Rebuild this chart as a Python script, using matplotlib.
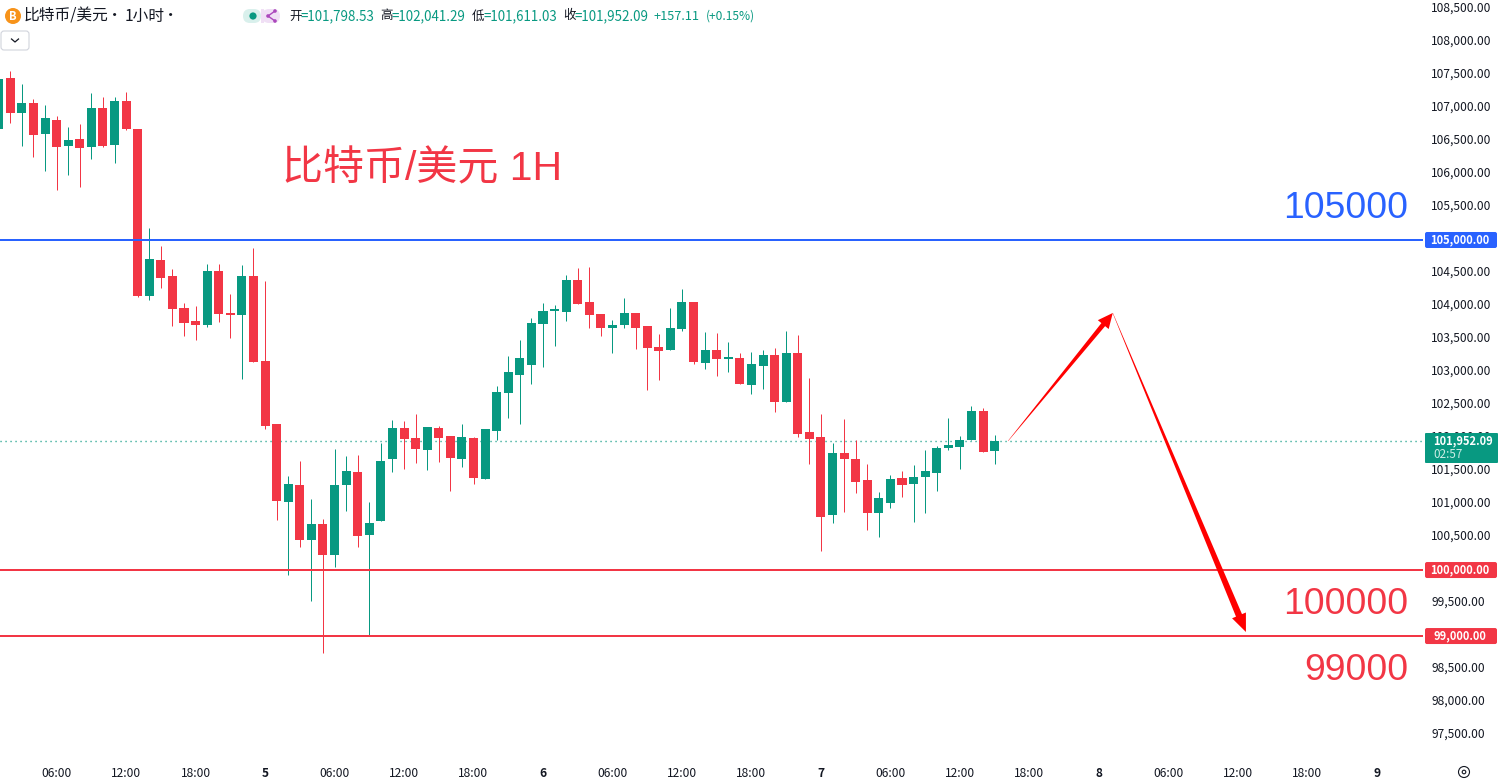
import matplotlib
matplotlib.use("Agg")
import matplotlib.pyplot as plt
from matplotlib.patches import Circle, FancyBboxPatch, Polygon, Rectangle
from matplotlib.transforms import ScaledTranslation
import numpy as np

plt.rcParams['font.family'] = ['Noto Sans CJK SC', 'DejaVu Sans']

# hourly candles
opens = [106682, 107454, 106924, 107076, 106606, 106818, 106424, 106530, 106409, 107000,
         106439, 107106, 106682, 104151, 104697, 104454, 103970, 103773, 103712, 104530,
         103894, 103864, 104454, 103167, 102212, 101031, 101288, 100455, 100697, 100228,
         101288, 101485, 100530, 100743, 101682, 102152, 102000, 101818, 102152, 102030,
         101682, 102000, 101379, 102106, 102682, 102955, 103106, 103727, 103924, 103909,
         104394, 104061, 103879, 103667, 103712, 103894, 103697, 103379, 103333, 103652,
         104061, 103136, 103333, 103197, 103212, 102803, 103091, 103258, 102546, 103288,
         102091, 102015, 100833, 101773, 101682, 101364, 100864, 101015, 101394, 101303,
         101409, 101470, 101848, 101864, 101970, 102409, 101798.53]
highs = [107560, 107560, 107363, 107136, 107045, 106879, 106712, 106757, 107227, 107166,
         107166, 107242, 106682, 105181, 104909, 104560, 104045, 104000, 104636, 104636,
         104182, 104621, 104879, 104379, 102212, 101424, 101652, 101076, 100773, 101834,
         101728, 101743, 101031, 101924, 102273, 102258, 102364, 102167, 102182, 102030,
         102212, 102015, 102137, 102788, 103243, 103485, 103818, 104045, 104015, 104470,
         104576, 104591, 103879, 103788, 104121, 103894, 103697, 103576, 103970, 104258,
         104061, 103606, 103591, 103455, 103288, 103303, 103333, 103364, 103621, 103561,
         102909, 102364, 101924, 102288, 101970, 101606, 101182, 101439, 101500, 101591,
         101818, 101879, 102303, 102030, 102485, 102455, 102041.29]
lows = [106682, 106772, 106424, 106257, 106045, 105757, 105985, 105803, 106227, 106409,
        106167, 106666, 104136, 104091, 104273, 103697, 103545, 103485, 103682, 103757,
        103515, 102894, 103151, 102137, 100758, 99925, 100349, 99531, 98743, 100046,
        100894, 100349, 99000, 100743, 101485, 101530, 101621, 101515, 101636, 101197,
        101561, 101303, 101379, 101970, 102303, 102212, 102818, 103076, 103394, 103773,
        104030, 103667, 103545, 103288, 103667, 103349, 102727, 102879, 103333, 103621,
        103121, 103045, 102940, 103000, 102818, 102667, 102742, 102394, 102546, 102015,
        101606, 100288, 100712, 100879, 101167, 100606, 100500, 100939, 101106, 100727,
        100864, 101197, 101818, 101530, 101970, 101788, 101611.03]
closes = [107439, 106924, 107076, 106591, 106848, 106409, 106515, 106394, 107000, 106424,
          107106, 106682, 104151, 104712, 104424, 103955, 103742, 103712, 104530, 103879,
          103864, 104454, 103151, 102182, 101046, 101303, 100455, 100697, 100228, 101288,
          101500, 100515, 100712, 101652, 102152, 101985, 101834, 102167, 102000, 101697,
          102015, 101394, 102137, 102697, 103000, 103212, 103742, 103924, 103939, 104394,
          104030, 103864, 103667, 103712, 103894, 103667, 103364, 103318, 103667, 104061,
          103151, 103333, 103197, 103212, 102818, 103121, 103258, 102546, 103288, 102061,
          101985, 100803, 101773, 101682, 101333, 100864, 101091, 101379, 101288, 101409,
          101500, 101848, 101894, 101970, 102409, 101788, 101952.09]

y_ticks = [v for v in range(97500, 109000, 500) if v not in (105000, 100000, 99000)]
x_ticks = [5 + 6 * k for k in range(20)]
x_labels = ['06:00', '12:00', '18:00', '5', '06:00', '12:00', '18:00', '6', '06:00', '12:00',
            '18:00', '7', '06:00', '12:00', '18:00', '8', '06:00', '12:00', '18:00', '9']

last_price = 101952.09
level_blue = [105000]
levels_red = [100000, 99000]

# the drawn path: up then down
path_x = [87.16, 96.2, 107.7]
path_price = [101955, 103894, 99061]

GREEN = '#089981'
RED = '#f23645'
BLUE = '#2962ff'
DARK = '#131722'
LATIN = ['Liberation Sans', 'Noto Sans CJK SC']

W, H = 1502, 783
fig = plt.figure(figsize=(W / 100, H / 100), dpi=100, facecolor='white')
ax = fig.add_axes([0, (H - 759) / H, 1423 / W, 759 / H])
ui = fig.add_axes([0, 0, 1, 1], zorder=5)
ui.set_xlim(0, W)
ui.set_ylim(H, 0)
ui.axis('off')
ui.patch.set_alpha(0)

ymax, ymin = 108636, 97137
ax.set_xlim(0.112, 122.99)
ax.set_ylim(ymin, ymax)


def y_px(price):
    return 759 * (ymax - price) / (ymax - ymin)


# candles
xs = np.arange(len(opens))
o, h, l, c = map(np.array, (opens, highs, lows, closes))
colors = [GREEN if b >= a else RED for a, b in zip(o, c)]
ax.vlines(xs, l, h, colors=colors, lw=0.72, zorder=3)
heights = np.maximum(np.abs(c - o), 25)
bottoms = np.minimum(o, c)
ax.bar(xs, heights, bottom=bottoms, width=0.78, color=colors, lw=0, zorder=4, antialiased=False)

# levels
ax.axhline(level_blue[0], color=BLUE, lw=1.44, zorder=5)
for p in levels_red:
    ax.axhline(p, color=RED, lw=1.44, zorder=5)
ax.axhline(last_price, color=GREEN, lw=1.0, ls=(0, (0.8, 2.8)), zorder=2)

# axes
for s in ax.spines.values():
    s.set_visible(False)
ax.yaxis.tick_right()
ax.set_yticks(y_ticks)
ax.set_yticklabels([f'{v:,.2f}' for v in y_ticks], fontsize=8.6, color=DARK, va='center')
ax.tick_params(axis='y', length=0, pad=6)
up_1px = ScaledTranslation(0, 1 / 100, fig.dpi_scale_trans)
for t in ax.get_yticklabels():
    t.set_transform(t.get_transform() + up_1px)
ax.set_xticks(x_ticks)
ax.set_xticklabels(x_labels, fontsize=8.6, color=DARK)
ax.tick_params(axis='x', length=0, pad=6)
for t, lab in zip(ax.get_xticklabels(), x_labels):
    if len(lab) == 1:
        t.set_fontweight('bold')
ax.grid(False)


# arrows, tapered like the brush tool
def arrow(x0, p0, x1, p1, w0, w1, head_w, head_l):
    a = ax.transData.transform((x0, p0))
    b = ax.transData.transform((x1, p1))
    d = (b - a) / np.linalg.norm(b - a)
    n = np.array([-d[1], d[0]])
    neck = b - d * head_l
    pts = [a + n * w0 / 2, neck + n * w1 / 2, neck + n * head_w / 2, b,
           neck - n * head_w / 2, neck - n * w1 / 2, a - n * w0 / 2]
    fig.add_artist(Polygon(pts, closed=True, fc='#ff0000', ec='none', transform=None, zorder=6))


arrow(path_x[0], path_price[0], path_x[1], path_price[1], 0.3, 4.8, 14, 15)
arrow(path_x[1], path_price[1], path_x[2], path_price[2], 0.3, 6.5, 15, 18)

# price tags on the right axis
for p, col in [(level_blue[0], BLUE), (levels_red[0], RED), (levels_red[1], RED)]:
    yy = y_px(p)
    ui.add_patch(FancyBboxPatch((1425, yy - 8), 72, 16, boxstyle='round,pad=0,rounding_size=2', fc=col, ec='none'))
    ui.text(1460, yy - 0.5, f'{p:,.2f}', color='white', fontsize=8.0, fontweight='bold', ha='center', va='center')
ui.add_patch(FancyBboxPatch((1425, 433), 73, 30, boxstyle='round,pad=0,rounding_size=1', fc=GREEN, ec='none'))
ui.text(1433, 440.5, f'{last_price:,.2f}', color='white', fontsize=8.0, fontweight='bold', ha='left', va='center')
ui.text(1433, 454, '02:57', color='#cdeee6', fontsize=8.4, ha='left', va='center')

# large notes
ui.text(282, 169, '比特币/美元 1H', color=RED, fontsize=29.5, ha='left', va='center', family=LATIN)
ui.text(1408, 208, '105000', color=BLUE, fontsize=26.8, ha='right', va='center', family=LATIN)
ui.text(1408, 605, '100000', color=RED, fontsize=26.8, ha='right', va='center', family=LATIN)
ui.text(1408, 671, '99000', color=RED, fontsize=26.8, ha='right', va='center', family=LATIN)

# header
ui.add_patch(Circle((13, 16), 8, fc='#f7931a', ec='none'))
ui.text(13, 16, 'B', color='white', fontsize=8, fontweight='bold', ha='center', va='center')
ui.text(24, 16, '比特币/美元', color=DARK, fontsize=11.3, ha='left', va='center')
ui.text(115, 16, '·', color=DARK, fontsize=11, ha='center', va='center')
ui.text(125, 16, '1小时', color=DARK, fontsize=11.3, ha='left', va='center')
ui.text(171, 16, '·', color=DARK, fontsize=11, ha='center', va='center')
ui.add_patch(FancyBboxPatch((243, 9), 18, 14, boxstyle='round,pad=0,rounding_size=7', fc='#d9f0ec', ec='none'))
ui.add_patch(FancyBboxPatch((262, 9), 18, 14, boxstyle='round,pad=0,rounding_size=7', fc='#f0dff5', ec='none'))
ui.add_patch(Rectangle((261, 9), 3, 14, fc='#f0dff5', ec='none'))
ui.add_patch(Circle((253, 16), 3.6, fc=GREEN, ec='none'))
ui.plot([275, 268, 275], [11, 16, 21], color='#ab47bc', lw=1)
for cx, cy in [(275, 11), (268, 16), (275, 21)]:
    ui.add_patch(Circle((cx, cy), 1.8, fc='#ab47bc', ec='none'))

for x0, lab, val in [(289, '开', '=101,798.53'), (380, '高', '=102,041.29'),
                     (472, '低', '=101,611.03'), (563, '收', '=101,952.09')]:
    ui.text(x0, 16, lab, color=DARK, fontsize=9.0, ha='left', va='center')
    ui.text(x0 + 11.5, 16, val, color=GREEN, fontsize=9.6, ha='left', va='center')
ui.text(653, 16, '+157.11', color=GREEN, fontsize=9.2, ha='left', va='center')
ui.text(706, 16, '(+0.15%)', color=GREEN, fontsize=8.6, ha='left', va='center')

ui.add_patch(FancyBboxPatch((1, 31), 28, 19, boxstyle='round,pad=0,rounding_size=3', fc='white', ec='#d1d4dc', lw=0.8))
ui.plot([11.5, 15, 18.5], [39, 42, 39], color=DARK, lw=0.9)

# settings icon, bottom right
ui.add_patch(Circle((1464, 772), 5.5, fc='none', ec=DARK, lw=0.8))
ui.add_patch(Circle((1464, 772), 1.8, fc='none', ec=DARK, lw=0.8))

fig.savefig('out.png', dpi=100)
